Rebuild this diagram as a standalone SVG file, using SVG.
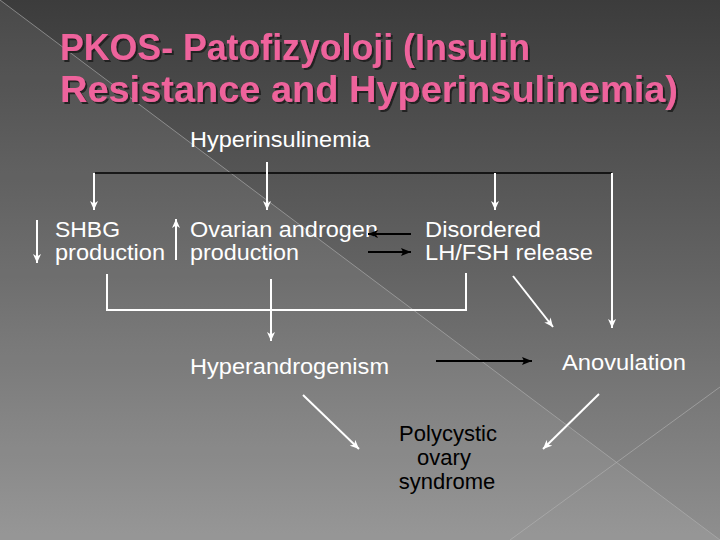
<svg xmlns="http://www.w3.org/2000/svg" width="720" height="540" viewBox="0 0 720 540">
  <defs>
    <linearGradient id="bg" x1="0" y1="0" x2="0" y2="1">
      <stop offset="0" stop-color="#3c3c3c"/>
      <stop offset="0.5" stop-color="#636363"/>
      <stop offset="1" stop-color="#8f8f8f"/>
    </linearGradient>
    <filter id="shadow" x="-5%" y="-20%" width="110%" height="140%">
      <feDropShadow dx="2" dy="2" stdDeviation="0.6" flood-color="#1e1e1e" flood-opacity="0.9"/>
    </filter>
    <marker id="wh" markerUnits="userSpaceOnUse" markerWidth="10" markerHeight="8" refX="9" refY="4" orient="auto">
      <path d="M0,0 L9,4 L0,8 L2.5,4 z" fill="#ffffff"/>
    </marker>
    <marker id="bh" markerUnits="userSpaceOnUse" markerWidth="11" markerHeight="9" refX="10" refY="4.5" orient="auto">
      <path d="M0,0.5 L10,4.5 L0,8.5 L2,4.5 z" fill="#000000"/>
    </marker>
    <style>
      .title { font-family: "Liberation Sans", Arial, sans-serif; font-weight: bold; font-size: 36px; fill: #ee649c; }
      .lbl { font-family: "Liberation Sans", Arial, sans-serif; font-size: 22px; fill: #ffffff; }
      .dark { fill: #000000; }
      .w { stroke: #ffffff; stroke-width: 2; fill: none; }
      .wa { stroke: #ffffff; stroke-width: 2; fill: none; marker-end: url(#wh); }
      .b { stroke: #000000; stroke-width: 1.5; fill: none; }
      .ba { stroke: #000000; stroke-width: 2; fill: none; marker-end: url(#bh); }
      .deco { stroke: #b4b4b4; stroke-width: 1; stroke-opacity: 0.6; fill: none; }
    </style>
  </defs>

  <!-- background -->
  <rect x="0" y="0" width="720" height="540" fill="url(#bg)"/>
  <polygon points="0,0 720,540 0,540" fill="#ffffff" fill-opacity="0.07"/>
  <line class="deco" x1="0" y1="0" x2="720" y2="540"/>
  <line class="deco" x1="720" y1="387" x2="510" y2="540"/>

  <!-- title -->
  <g id="title" filter="url(#shadow)">
    <text class="title" x="60" y="60" textLength="470" lengthAdjust="spacingAndGlyphs">PKOS- Patofizyoloji (Insulin</text>
    <text class="title" x="60" y="102" textLength="618" lengthAdjust="spacingAndGlyphs">Resistance and Hyperinsulinemia)</text>
  </g>

  <!-- nodes -->
  <g id="hyperinsulinemia">
    <text class="lbl" x="190" y="147" textLength="180" lengthAdjust="spacingAndGlyphs">Hyperinsulinemia</text>
  </g>
  <g id="shbg">
    <text class="lbl" x="55" y="237" textLength="65" lengthAdjust="spacingAndGlyphs">SHBG</text>
    <text class="lbl" x="55" y="260" textLength="110" lengthAdjust="spacingAndGlyphs">production</text>
  </g>
  <g id="ovarian">
    <text class="lbl" x="190" y="237" textLength="188" lengthAdjust="spacingAndGlyphs">Ovarian androgen</text>
    <text class="lbl" x="190" y="260" textLength="109" lengthAdjust="spacingAndGlyphs">production</text>
  </g>
  <g id="lhfsh">
    <text class="lbl" x="425" y="237" textLength="116" lengthAdjust="spacingAndGlyphs">Disordered</text>
    <text class="lbl" x="425" y="260" textLength="168" lengthAdjust="spacingAndGlyphs">LH/FSH release</text>
  </g>
  <g id="hyperandrogenism">
    <text class="lbl" x="190" y="374" textLength="199" lengthAdjust="spacingAndGlyphs">Hyperandrogenism</text>
  </g>
  <g id="anovulation">
    <text class="lbl" x="562" y="370" textLength="124" lengthAdjust="spacingAndGlyphs">Anovulation</text>
  </g>
  <g id="pcos">
    <text class="lbl dark" x="448" y="441" text-anchor="middle">Polycystic</text>
    <text class="lbl dark" x="444" y="465" text-anchor="middle">ovary</text>
    <text class="lbl dark" x="447" y="489" text-anchor="middle">syndrome</text>
  </g>

  <!-- connectors -->
  <g id="connectors">
    <line class="b" x1="95" y1="173" x2="612" y2="173"/>
    <line class="wa" x1="94" y1="173" x2="94" y2="210"/>
    <line class="wa" x1="267" y1="162" x2="267" y2="210"/>
    <line class="wa" x1="495" y1="173" x2="495" y2="210"/>
    <line class="wa" x1="612" y1="173" x2="612" y2="328"/>
    <line class="wa" x1="37" y1="220" x2="37" y2="263"/>
    <line class="wa" x1="176" y1="260" x2="176" y2="219"/>
    <line class="ba" x1="411" y1="234" x2="368" y2="234"/>
    <line class="ba" x1="368" y1="252" x2="411" y2="252"/>
    <line class="wa" x1="513" y1="276" x2="553" y2="327"/>
    <polyline class="w" points="107,274 107,310 466,310 466,273"/>
    <line class="wa" x1="271" y1="279" x2="271" y2="341"/>
    <line class="ba" x1="436" y1="361" x2="532" y2="361"/>
    <line class="wa" x1="303" y1="395" x2="359" y2="449"/>
    <line class="wa" x1="599" y1="394" x2="543" y2="449"/>
  </g>
</svg>
